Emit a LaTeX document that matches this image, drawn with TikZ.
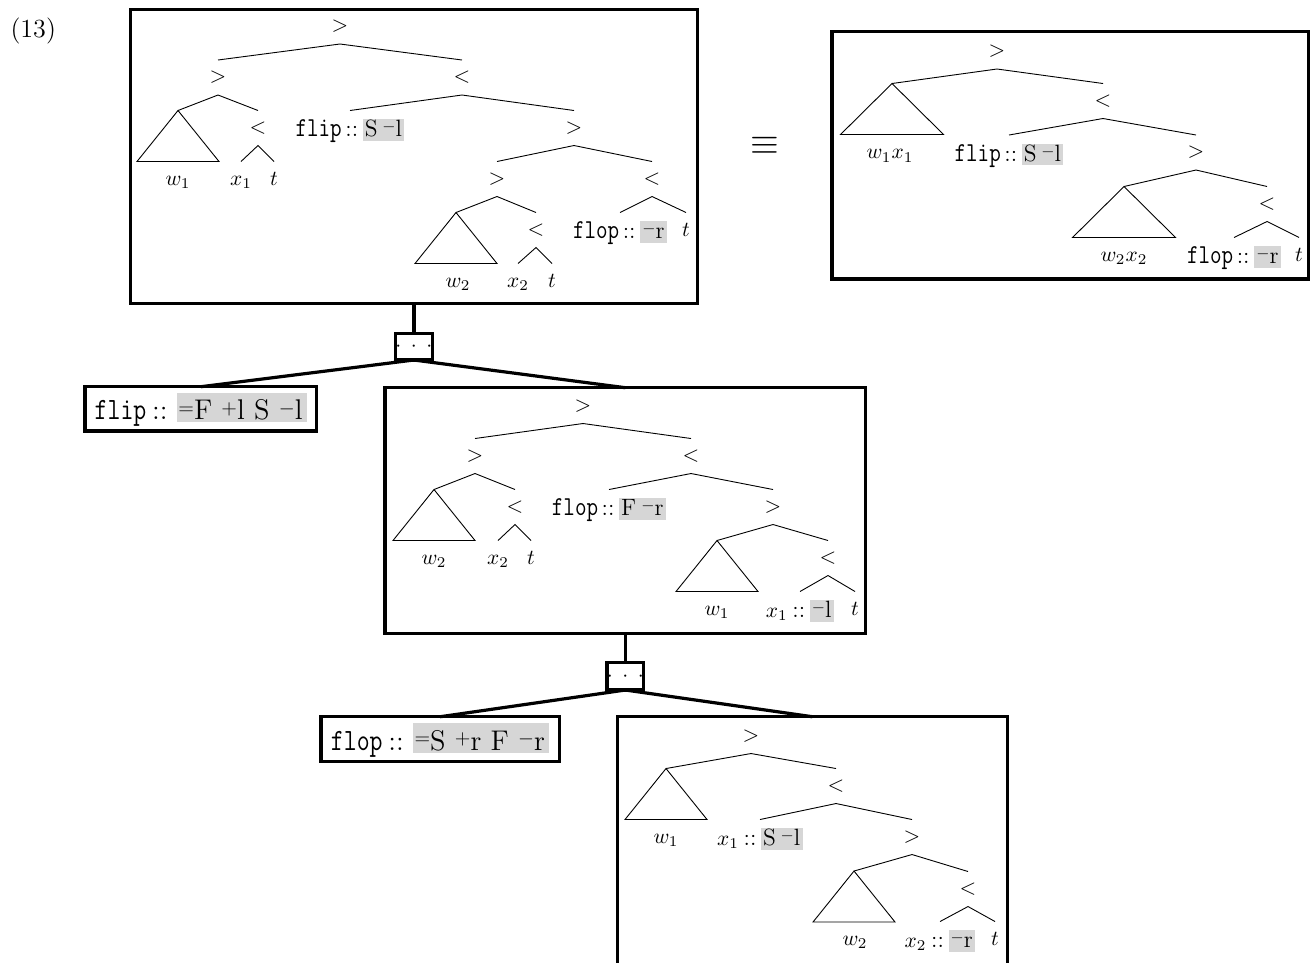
\documentclass[tikz,border=0pt]{standalone}
\usepackage{fix-cm}
\usepackage{xcolor}
\usepackage{graphicx}
\definecolor{hl}{gray}{0.84}
% one drawing unit (pixel) before the global scale of 2.14
\newdimen\pxd \pxd=0.46729pt
\newcommand\rms{\fontsize{11}{13}\selectfont}
\newcommand\rmb{\fontsize{13.3}{16}\selectfont}
\newcommand\tts[1]{\scalebox{0.82}[1]{\fontsize{12.8}{14}\selectfont\ttfamily #1}}
\newcommand\ttb[1]{\scalebox{0.81}[1]{\fontsize{14.5}{16}\selectfont\ttfamily #1}}
% feature operators (=, +, -) slightly smaller than the letters, centred on them
\newcommand\fop[1]{\raisebox{0.2em}{\scalebox{0.72}{$#1$}}}
% shaded feature strings: small ones inside trees, big ones in lexical boxes
\newcommand\hls[1]{{\setlength\fboxsep{0pt}\colorbox{hl}{\rule[-4\pxd]{0pt}{21.5\pxd}\hspace{2\pxd}#1\hspace{2.5\pxd}}}}
\newcommand\hlb[1]{{\setlength\fboxsep{0pt}\colorbox{hl}{\rule[-2.5\pxd]{0pt}{29.5\pxd}\hspace{1.5\pxd}#1\hspace{4.5\pxd}}}}
\tikzset{
  tree/.style={line width=0.9pt},
  op/.style={inner sep=0pt, minimum height=35\pxd, text height=0.75em, text depth=0.25em},
  lf/.style={inner sep=0pt, minimum height=35\pxd, text height=0.8em, text depth=0.2em},
  lx/.style={inner sep=0pt, minimum height=35\pxd, text height=0.9em, text depth=0.1em},
  frame/.style={draw, rectangle, line width=3.3pt, inner sep=0pt},
  dotbox/.style={frame},
  lexbox/.style={frame, text height=26\pxd, text depth=4\pxd},
  link/.style={line width=3.2pt},
}
\begin{document}
\begin{tikzpicture}[x=\pxd, y=-\pxd, scale=2.14, every node/.append style={transform shape, outer sep=0pt}]
\useasboundingbox (0,0) rectangle (1314,962);
\clip (0,0) rectangle (1314,962);

\node[anchor=base west, inner sep=0pt, font=\fontsize{12.2}{14}\selectfont] (num) at (10.5,37) {(13)};
\node[inner sep=0pt, font=\fontsize{17.28}{20}\selectfont] (eqv) at (764.5,146.4) {$\equiv$};

% ---------- frames and derivation skeleton ----------
\node[frame, minimum width=566.8\pxd, minimum height=294.1\pxd] (B1) at (413.9,156.25) {};
\node[frame, minimum width=476.7\pxd, minimum height=247.3\pxd] (B4) at (1070.35,155.35) {};
\node[dotbox, minimum width=35.7\pxd, minimum height=26.7\pxd] (D1) at (413.9,346.65) {$\cdotp\kern6\pxd\cdotp\kern6\pxd\cdotp$};
\node[lexbox, minimum width=231.7\pxd, minimum height=44.3\pxd] (LF) at (200.85,408.85)
  {\rmb\ttb{flip}\kern0.2em::\ \hlb{\fop{=}F \fop{+}l S \fop{-}l}};
\node[frame, minimum width=480.7\pxd, minimum height=245.6\pxd] (B2) at (625.35,510.5) {};
\node[dotbox, minimum width=36\pxd, minimum height=27.3\pxd] (D2) at (625.35,676.35) {$\cdotp\kern6\pxd\cdotp\kern6\pxd\cdotp$};
\node[lexbox, minimum width=238.3\pxd, minimum height=45\pxd] (LP) at (440.15,739.2)
  {\rmb\ttb{flop}\kern0.2em::\ \hlb{\fop{=}S \fop{+}r F \fop{-}r}};
\node[frame, minimum width=390\pxd, minimum height=300\pxd] (B3) at (812.3,866.7) {};

\draw[link] (B1.south) -- (D1.north);
\draw[link] (D1.south) -- (LF.north);
\draw[link] (D1.south) -- (B2.north);
\draw[link] (B2.south) -- (D2.north);
\draw[link] (D2.south) -- (LP.north);
\draw[link] (D2.south) -- (B3.north);

% ---------- tree in the first frame ----------
\node[op] (p1) at (340,26.5) {$>$};
\node[op] (p2) at (218,77.5) {$>$};
\node[op] (p3) at (462,77.5) {$<$};
\coordinate (p1t1) at (178,110.5);
\node[op] (p4) at (258,128) {$<$};
\node[lf] (p5) at (241,179) {$x_1$};
\node[lf] (p6) at (274,179) {$t$};
\node[lf] (p7) at (178,179) {$w_1$};
\node[lx] (p8) at (350,128) {\rms\tts{flip}\kern0.15em::\kern0.2em\hls{S\kern0.2em\fop{-}l}};
\node[op] (p9) at (574,128) {$>$};
\node[op] (p10) at (497,179) {$>$};
\node[op] (p11) at (652,179) {$<$};
\coordinate (p1t2) at (456,212.5);
\node[op] (p12) at (536,230) {$<$};
\node[lf] (p13) at (518,281) {$x_2$};
\node[lf] (p14) at (552,281) {$t$};
\node[lf] (p15) at (458,281) {$w_2$};
\node[lx] (p16) at (620,230) {\rms\tts{flop}\kern0.15em::\kern0.2em\hls{\fop{-}r}};
\node[lf] (p17) at (686,230) {$t$};
\draw[tree] (p1t1) -- ++(-41,51) -- ++(82,0) -- cycle;
\draw[tree] (p1t2) -- ++(-41,51) -- ++(82,0) -- cycle;
\draw[tree] (p2.north) -- (p1.south) -- (p3.north);
\draw[tree] (p1t1) -- (p2.south) -- (p4.north);
\draw[tree] (p5.north) -- (p4.south) -- (p6.north);
\draw[tree] (p8.north) -- (p3.south) -- (p9.north);
\draw[tree] (p10.north) -- (p9.south) -- (p11.north);
\draw[tree] (p1t2) -- (p10.south) -- (p12.north);
\draw[tree] (p13.north) -- (p12.south) -- (p14.north);
\draw[tree] (p16.north) -- (p11.south) -- (p17.north);

% ---------- tree in the right-hand frame ----------
\node[op] (q1) at (997,51.5) {$>$};
\coordinate (q1t1) at (892,83.5);
\node[op] (q2) at (1103,101) {$<$};
\node[lf] (q3) at (890,152.5) {$w_1x_1$};
\node[lx] (q4) at (1009,152.5) {\rms\tts{flip}\kern0.15em::\kern0.2em\hls{S\kern0.2em\fop{-}l}};
\node[op] (q5) at (1196,152.5) {$>$};
\coordinate (q1t2) at (1124,186.5);
\node[op] (q6) at (1267,204) {$<$};
\node[lf] (q7) at (1124,255) {$w_2x_2$};
\node[lx] (q8) at (1234,255) {\rms\tts{flop}\kern0.15em::\kern0.2em\hls{\fop{-}r}};
\node[lf] (q9) at (1299,255) {$t$};
\draw[tree] (q1t1) -- ++(-51.5,51) -- ++(103,0) -- cycle;
\draw[tree] (q1t2) -- ++(-51.5,51) -- ++(103,0) -- cycle;
\draw[tree] (q1t1) -- (q1.south) -- (q2.north);
\draw[tree] (q4.north) -- (q2.south) -- (q5.north);
\draw[tree] (q1t2) -- (q5.south) -- (q6.north);
\draw[tree] (q8.north) -- (q6.south) -- (q9.north);

% ---------- tree in the second frame ----------
\node[op] (s1) at (583,406) {$>$};
\node[op] (s2) at (475,456) {$>$};
\node[op] (s3) at (691,456) {$<$};
\coordinate (s2t1) at (434,489.5);
\node[op] (s4) at (515,507) {$<$};
\node[lf] (s5) at (498,558) {$x_2$};
\node[lf] (s6) at (531,558) {$t$};
\node[lf] (s7) at (434,558) {$w_2$};
\node[lx] (s8) at (609,507) {\rms\tts{flop}\kern0.15em::\kern0.2em\hls{F\kern0.22em\fop{-}r}};
\node[op] (s9) at (773,507) {$>$};
\coordinate (s2t2) at (717,540.5);
\node[op] (s10) at (828,558) {$<$};
\node[lx] (s11) at (800,609) {$x_1$\rms\kern0.2em::\kern0.2em\hls{\fop{-}l}};
\node[lf] (s12) at (855,609) {$t$};
\node[lf] (s13) at (717,609) {$w_1$};
\draw[tree] (s2t1) -- ++(-41,51) -- ++(82,0) -- cycle;
\draw[tree] (s2t2) -- ++(-41,51) -- ++(82,0) -- cycle;
\draw[tree] (s2.north) -- (s1.south) -- (s3.north);
\draw[tree] (s2t1) -- (s2.south) -- (s4.north);
\draw[tree] (s5.north) -- (s4.south) -- (s6.north);
\draw[tree] (s8.north) -- (s3.south) -- (s9.north);
\draw[tree] (s2t2) -- (s9.south) -- (s10.north);
\draw[tree] (s11.north) -- (s10.south) -- (s12.north);

% ---------- tree in the third frame ----------
\node[op] (u1) at (751,736) {$>$};
\coordinate (u3t1) at (666,768.5);
\node[op] (u2) at (836,786) {$<$};
\node[lf] (u3) at (666,837) {$w_1$};
\node[lx] (u4) at (760,837) {$x_1$\rms\kern0.2em::\kern0.2em\hls{S\kern0.2em\fop{-}l}};
\node[op] (u5) at (912,837) {$>$};
\coordinate (u3t2) at (854,871);
\node[op] (u6) at (968,889) {$<$};
\node[lf] (u7) at (855,939) {$w_2$};
\node[lx] (u8) at (940,939) {$x_2$\rms\kern0.2em::\kern0.2em\hls{\fop{-}r}};
\node[lf] (u9) at (995,939) {$t$};
\draw[tree] (u3t1) -- ++(-41,51) -- ++(82,0) -- cycle;
\draw[tree] (u3t2) -- ++(-41,51) -- ++(82,0) -- cycle;
\draw[tree] (u3t1) -- (u1.south) -- (u2.north);
\draw[tree] (u4.north) -- (u2.south) -- (u5.north);
\draw[tree] (u3t2) -- (u5.south) -- (u6.north);
\draw[tree] (u8.north) -- (u6.south) -- (u9.north);
\end{tikzpicture}
\end{document}
